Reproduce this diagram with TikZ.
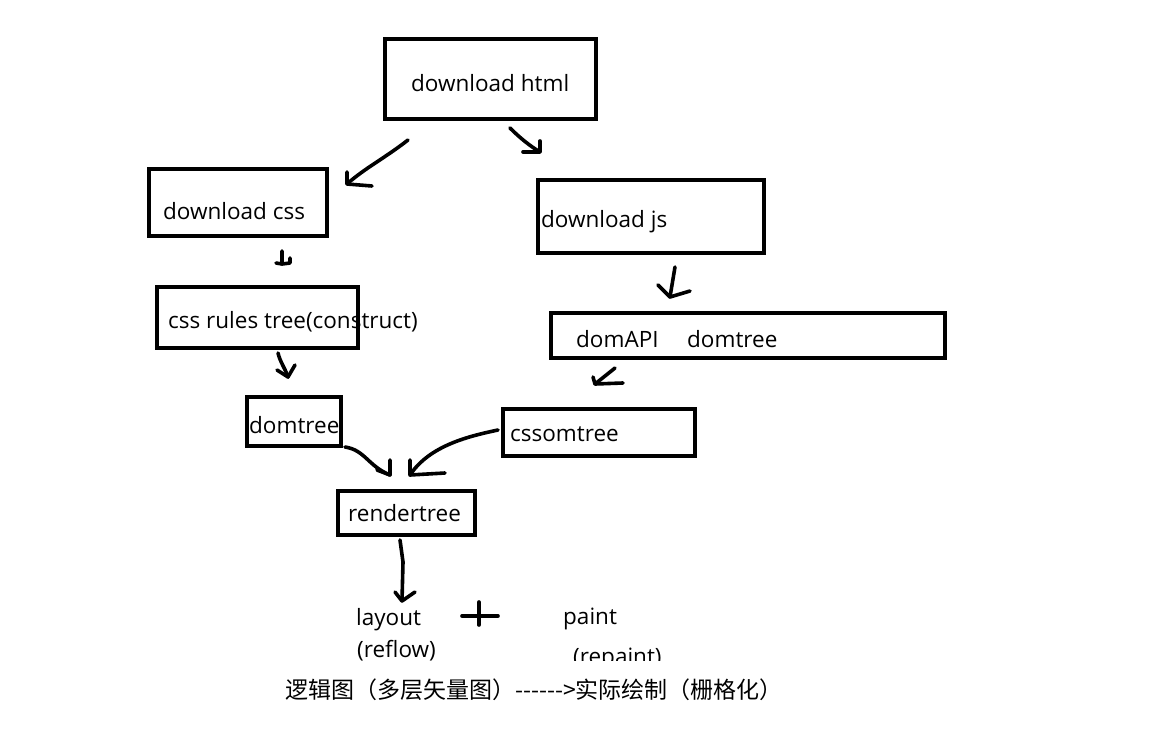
\documentclass[tikz,border=0pt]{standalone}
\usepackage{fontspec}
\setmainfont{Open Sans}
\newfontfamily\cjk{Noto Sans CJK SC}
\begin{document}
\begin{tikzpicture}[x=1pt,y=-1pt,
  box/.style={draw=black,line width=4pt,rectangle,inner sep=0pt},
  lbl/.style={anchor=base west,inner sep=0pt,font=\fontsize{22.5}{27}\selectfont},
  pen/.style={draw=black,line width=3.6pt,line cap=round,line join=round}]
\useasboundingbox[fill=white] (0,0) rectangle (1152,731);
% boxes
\node[box,minimum width=211pt,minimum height=80pt] (html) at (490.5,79) {};
\node[box,minimum width=178pt,minimum height=67pt] (css) at (238,202.5) {};
\node[box,minimum width=226pt,minimum height=73pt] (js) at (651,216.5) {};
\node[box,minimum width=201pt,minimum height=61pt] (rules) at (257.5,317.5) {};
\node[box,minimum width=394pt,minimum height=45pt] (domapi) at (748,335.5) {};
\node[box,minimum width=94pt,minimum height=49pt] (domtree) at (294,421.5) {};
\node[box,minimum width=192pt,minimum height=47pt] (cssom) at (599,432.5) {};
\node[box,minimum width=137pt,minimum height=44pt] (render) at (406.5,513) {};
% labels
\node[lbl] (thtml) at (411,91) {download html};
\node[lbl] (tcss) at (163,219) {download css};
\node[lbl] (tjs) at (541,227) {download js};
\node[lbl] (trules) at (168,328) {css rules tree(construct)};
\node[lbl] (tdomapi) at (576,347) {domAPI};
\node[lbl] (tdomtree2) at (687,347) {domtree};
\node[lbl] (tdomtree) at (249,433) {domtree};
\node[lbl] (tcssom) at (510,441) {cssomtree};
\node[lbl] (trender) at (348,521) {rendertree};
\node[lbl] (tlayout) at (356,625) {layout};
\node[lbl] (tpaint) at (563,624) {paint};
\begin{scope}
\clip (0,0) rectangle (1152,660);
\node[lbl] (treflow) at (357,657) {(reflow)};
\node[lbl] (trepaint) at (573,664) {(repaint)};
\end{scope}
\node[lbl,font=\cjk\fontsize{23}{27}\selectfont] (caption) at (285,698) {逻辑图（多层矢量图）------>实际绘制（栅格化）};
% arrow coordinates
\coordinate (a1s) at (408,140); \coordinate (a1t) at (347,184);
\coordinate (a2s) at (510,128); \coordinate (a2t) at (540,152);
\coordinate (a4s) at (675,267); \coordinate (a4t) at (670,297);
\coordinate (a5s) at (278,353); \coordinate (a5t) at (288,377);
\coordinate (a6s) at (615,368); \coordinate (a6t) at (595,384);
\coordinate (a7s) at (345,447); \coordinate (a7t) at (390,475);
\coordinate (a8s) at (498,430); \coordinate (a8t) at (410,475);
\coordinate (a9s) at (400,540); \coordinate (a9t) at (402,601);
% arrows
\draw[pen] (a1s) .. controls (385,158) and (365,168) .. (a1t);
\draw[pen] (347,172) -- (a1t) -- (372,186);
\draw[pen] (a2s) .. controls (520,138) and (530,146) .. (a2t);
\draw[pen] (540,141) -- (a2t) -- (523,152);
\draw[pen] (282,251) -- (282,264) -- (290,263) -- (290,258);
\draw[pen] (276,263) -- (282,264);
\draw[pen] (a4s) -- (672,285) -- (a4t);
\draw[pen] (658,285) -- (a4t) -- (690,291);
\draw[pen] (a5s) .. controls (280,362) and (286,370) .. (a5t);
\draw[pen] (277,370) -- (a5t) -- (295,365);
\draw[pen] (a6s) -- (a6t);
\draw[pen] (593,377) -- (a6t) -- (623,383);
\draw[pen] (a7s) .. controls (365,450) and (368,466) .. (a7t);
\draw[pen] (377,470) -- (a7t) -- (390,460);
\draw[pen] (a8s) .. controls (470,436) and (430,445) .. (a8t);
\draw[pen] (410,460) -- (a8t) -- (445,473);
\draw[pen] (a9s) -- (403,562) -- (a9t);
\draw[pen] (395,592) -- (a9t) -- (415,592);
% plus sign
\draw[pen] (462,616) -- (498,616);
\draw[pen] (479,602) -- (479,625);
\end{tikzpicture}
\end{document}
